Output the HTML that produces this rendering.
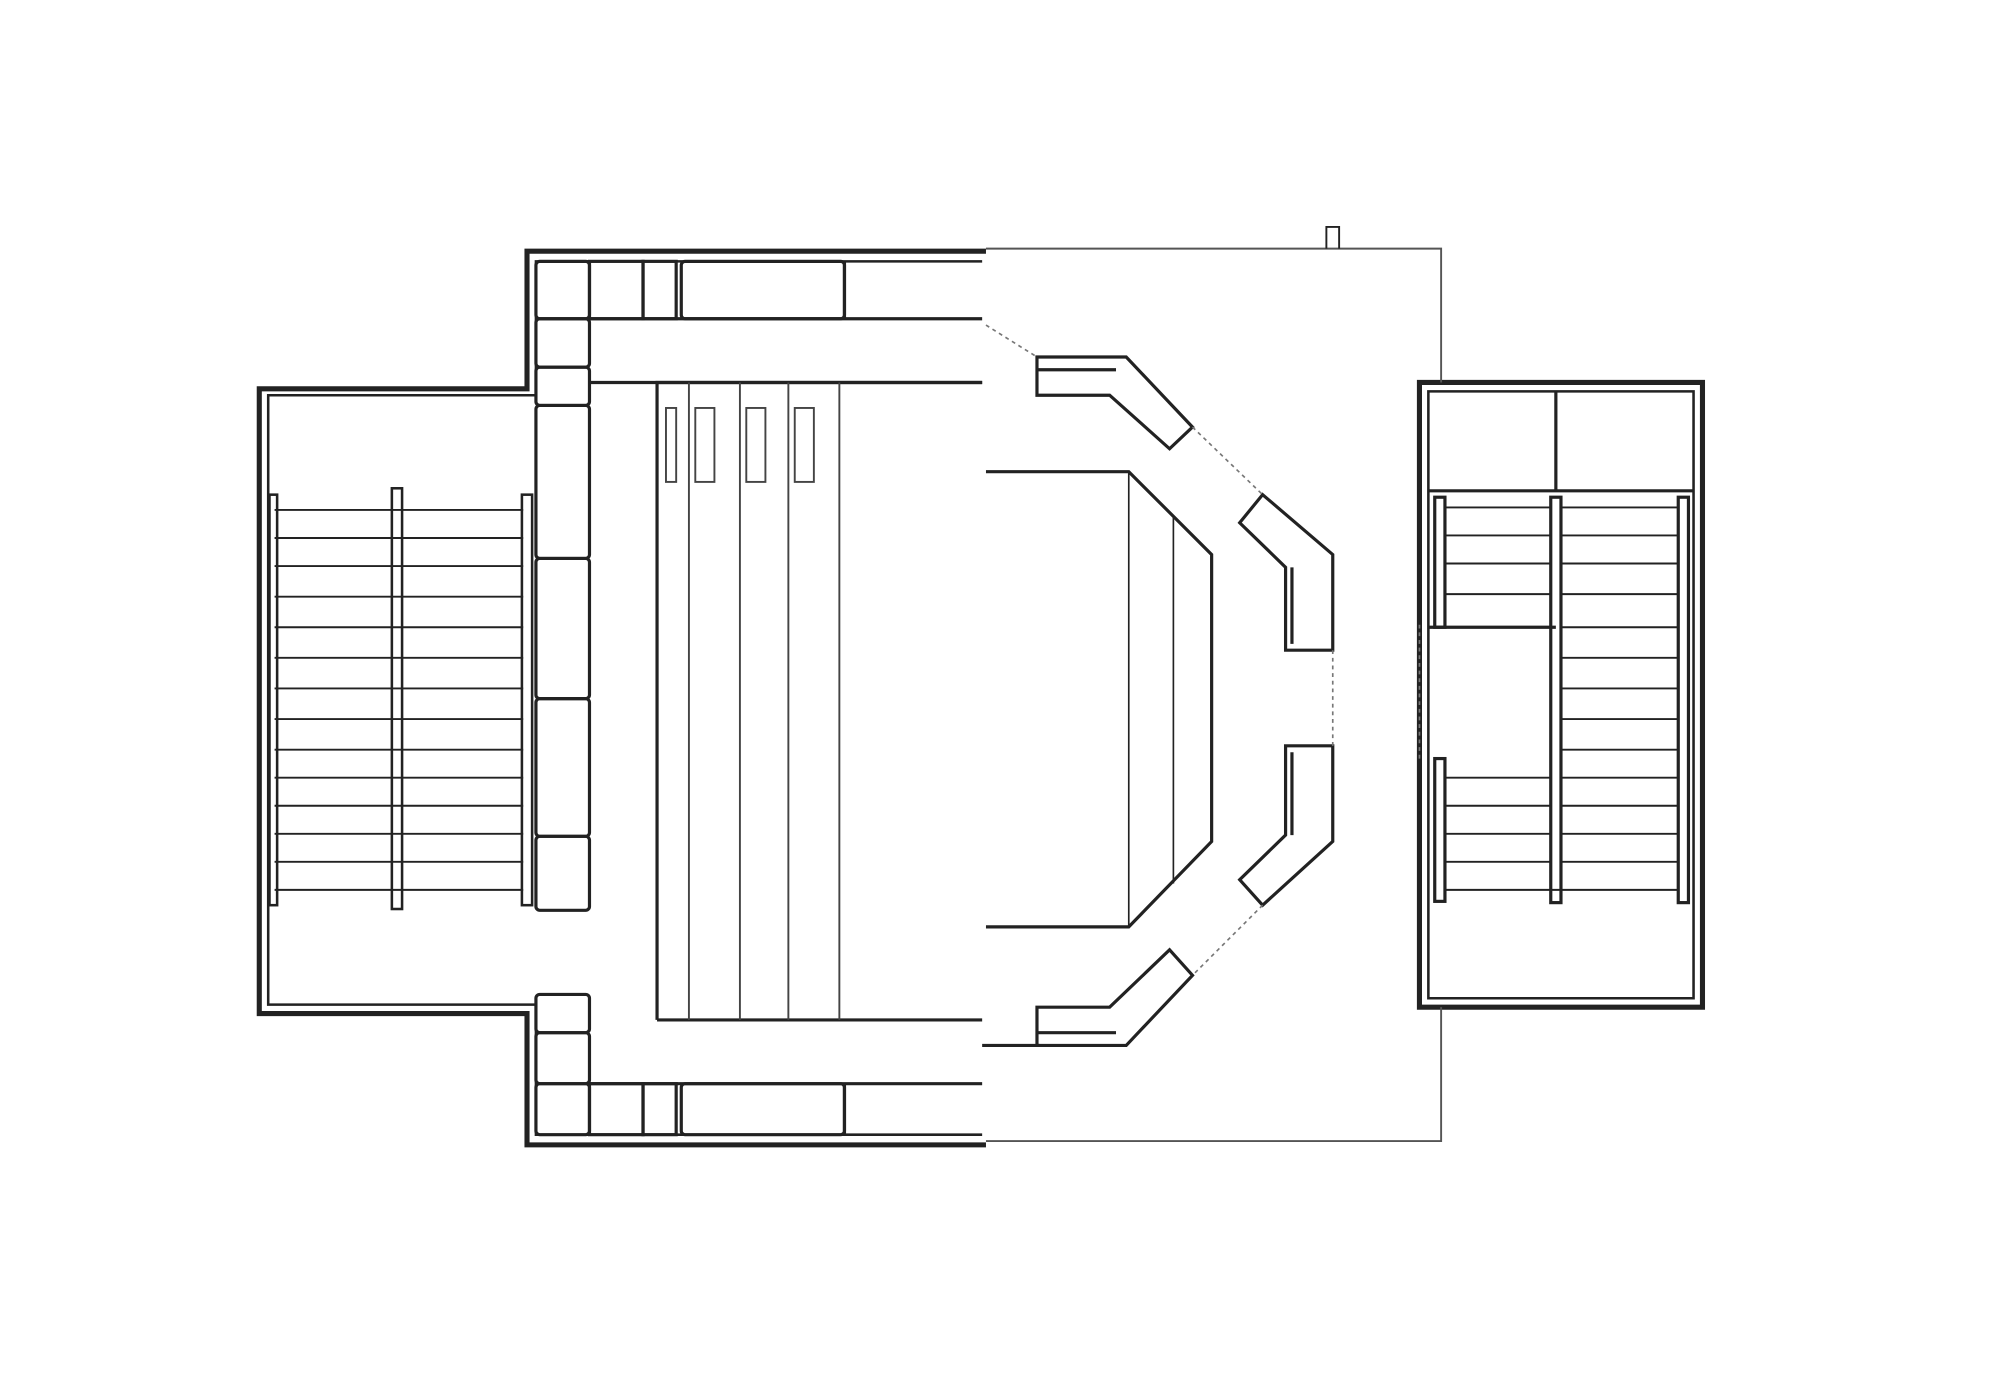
<!DOCTYPE html>
<html><head><style>html,body{margin:0;padding:0;background:#fff}svg{display:block}</style></head>
<body>
<svg width="2000" height="1382" viewBox="0 0 1568 1084" xmlns="http://www.w3.org/2000/svg" fill="none" stroke="#222" stroke-width="2">
<rect x="0" y="0" width="1568" height="1084" fill="#fff" stroke="none"/>
<!-- main outer thick walls -->
<g stroke-width="4">
<path d="M773 197 H413 V305 H203 V795 H413 V898 H773"/>
<path d="M1113 300 H1335 V790 H1113 Z"/>
</g>
<path d="M770 205 H420 V310 H210 V788 H420 V890 H770" stroke-width="2"/>
<path d="M1120 307 H1328 V783 H1120 Z"/>
<!-- thin outer -->
<path d="M773 195 H1130 V300 M1130 790 V895 H773" stroke-width="1.5" stroke="#555"/>
<path d="M1040 195 V178 H1050 V195" stroke-width="1.5"/>
<!-- left column boxes -->
<g stroke-width="2.5">
<rect x="420" y="205" width="42" height="45" rx="3"/>
<rect x="420" y="250" width="42" height="38" rx="3"/>
<rect x="420" y="288" width="42" height="30" rx="3"/>
<rect x="420" y="318" width="42" height="120" rx="3"/>
<rect x="420" y="438" width="42" height="110" rx="3"/>
<rect x="420" y="548" width="42" height="108" rx="3"/>
<rect x="420" y="656" width="42" height="58" rx="3"/>
<rect x="462" y="205" width="42" height="45"/>
<rect x="504" y="205" width="26" height="45"/>
<rect x="534" y="205" width="128" height="45" rx="3"/>
<line x1="662" y1="205" x2="662" y2="250"/>
<line x1="462" y1="250" x2="770" y2="250"/>
<line x1="462" y1="300" x2="770" y2="300"/>
<!-- bottom -->
<rect x="420" y="780" width="42" height="30" rx="3"/>
<rect x="420" y="810" width="42" height="40" rx="3"/>
<rect x="420" y="850" width="42" height="40" rx="3"/>
<rect x="462" y="850" width="42" height="40"/>
<rect x="504" y="850" width="26" height="40"/>
<rect x="534" y="850" width="128" height="40" rx="3"/>
<line x1="662" y1="850" x2="662" y2="890"/>
<line x1="462" y1="850" x2="770" y2="850"/>
<line x1="515" y1="800" x2="770" y2="800"/>
<line x1="770" y1="820" x2="815" y2="820"/>
</g>
<!-- left stairs -->
<g stroke-width="1.5">
<g id="steps">
<line x1="215" y1="400" x2="410" y2="400"/><line x1="215" y1="422" x2="410" y2="422"/>
<line x1="215" y1="444" x2="410" y2="444"/><line x1="215" y1="468" x2="410" y2="468"/>
<line x1="215" y1="492" x2="410" y2="492"/><line x1="215" y1="516" x2="410" y2="516"/>
<line x1="215" y1="540" x2="410" y2="540"/><line x1="215" y1="564" x2="410" y2="564"/>
<line x1="215" y1="588" x2="410" y2="588"/><line x1="215" y1="610" x2="410" y2="610"/>
<line x1="215" y1="632" x2="410" y2="632"/><line x1="215" y1="654" x2="410" y2="654"/>
<line x1="215" y1="676" x2="410" y2="676"/><line x1="215" y1="698" x2="410" y2="698"/>
</g>
</g>
<g stroke-width="2">
<rect x="211" y="388" width="6" height="322"/>
<rect x="307" y="383" width="8" height="330"/>
<rect x="409" y="388" width="8" height="322"/>
</g>
<!-- seating -->
<g stroke-width="2.5"><path d="M770 300 H515 V800"/></g>
<g stroke-width="1.5" stroke="#444">
<line x1="540" y1="300" x2="540" y2="800"/>
<line x1="580" y1="300" x2="580" y2="800"/>
<line x1="618" y1="300" x2="618" y2="800"/>
<line x1="658" y1="300" x2="658" y2="800"/>
<rect x="545" y="320" width="15" height="58"/>
<rect x="585" y="320" width="15" height="58"/>
<rect x="623" y="320" width="15" height="58"/>
<rect x="522" y="320" width="8" height="58"/>
</g>
<!-- stage -->
<path d="M773 370 H885 L950 435 V660 L885 727 H773" stroke-width="2.5"/>
<line x1="885" y1="370" x2="885" y2="727" stroke-width="1.3"/>
<line x1="920" y1="405" x2="920" y2="693" stroke-width="1.3"/>
<!-- panels -->
<g stroke-width="2.5">
<path d="M813 280 H883 L935 335 L917 352 L870 310 H813 Z"/>
<line x1="813" y1="290" x2="875" y2="290"/>
<path d="M990 388 L1045 435 V510 H1008 V445 L972 410 Z"/>
<line x1="1013" y1="445" x2="1013" y2="505"/>
<path d="M1008 585 H1045 V660 L990 710 L972 690 L1008 655 Z"/>
<line x1="1013" y1="590" x2="1013" y2="655"/>
<path d="M813 820 H883 L935 765 L917 745 L870 790 H813 Z"/>
<line x1="813" y1="810" x2="875" y2="810"/>
</g>
<g stroke-width="1.3" stroke="#777" stroke-dasharray="3 3">
<line x1="773" y1="255" x2="813" y2="280"/>
<line x1="935" y1="335" x2="990" y2="388"/>
<line x1="1045" y1="510" x2="1045" y2="585"/>
<line x1="990" y1="710" x2="935" y2="765"/>
<line x1="1113" y1="490" x2="1113" y2="595"/>
</g>
<!-- right wing -->
<g stroke-width="2.5">
<line x1="1220" y1="307" x2="1220" y2="385"/>
<line x1="1120" y1="385" x2="1328" y2="385"/>
<rect x="1125" y="390" width="8" height="102"/>
<rect x="1216" y="390" width="8" height="318"/>
<line x1="1120" y1="492" x2="1220" y2="492"/>
<rect x="1125" y="595" width="8" height="112"/>
<rect x="1316" y="390" width="8" height="318"/>
</g>
<g stroke-width="1.5">
<line x1="1133" y1="398" x2="1216" y2="398"/><line x1="1133" y1="420" x2="1216" y2="420"/>
<line x1="1133" y1="442" x2="1216" y2="442"/><line x1="1133" y1="466" x2="1216" y2="466"/>
<line x1="1224" y1="398" x2="1316" y2="398"/><line x1="1224" y1="420" x2="1316" y2="420"/>
<line x1="1224" y1="442" x2="1316" y2="442"/><line x1="1224" y1="466" x2="1316" y2="466"/>
<line x1="1224" y1="492" x2="1316" y2="492"/><line x1="1224" y1="516" x2="1316" y2="516"/>
<line x1="1224" y1="540" x2="1316" y2="540"/><line x1="1224" y1="564" x2="1316" y2="564"/>
<line x1="1224" y1="588" x2="1316" y2="588"/><line x1="1224" y1="610" x2="1316" y2="610"/>
<line x1="1224" y1="632" x2="1316" y2="632"/><line x1="1224" y1="654" x2="1316" y2="654"/>
<line x1="1224" y1="676" x2="1316" y2="676"/>
<line x1="1133" y1="610" x2="1216" y2="610"/><line x1="1133" y1="632" x2="1216" y2="632"/>
<line x1="1133" y1="654" x2="1216" y2="654"/><line x1="1133" y1="676" x2="1216" y2="676"/>
<line x1="1133" y1="698" x2="1316" y2="698"/>
</g>
</svg>
</body></html>
